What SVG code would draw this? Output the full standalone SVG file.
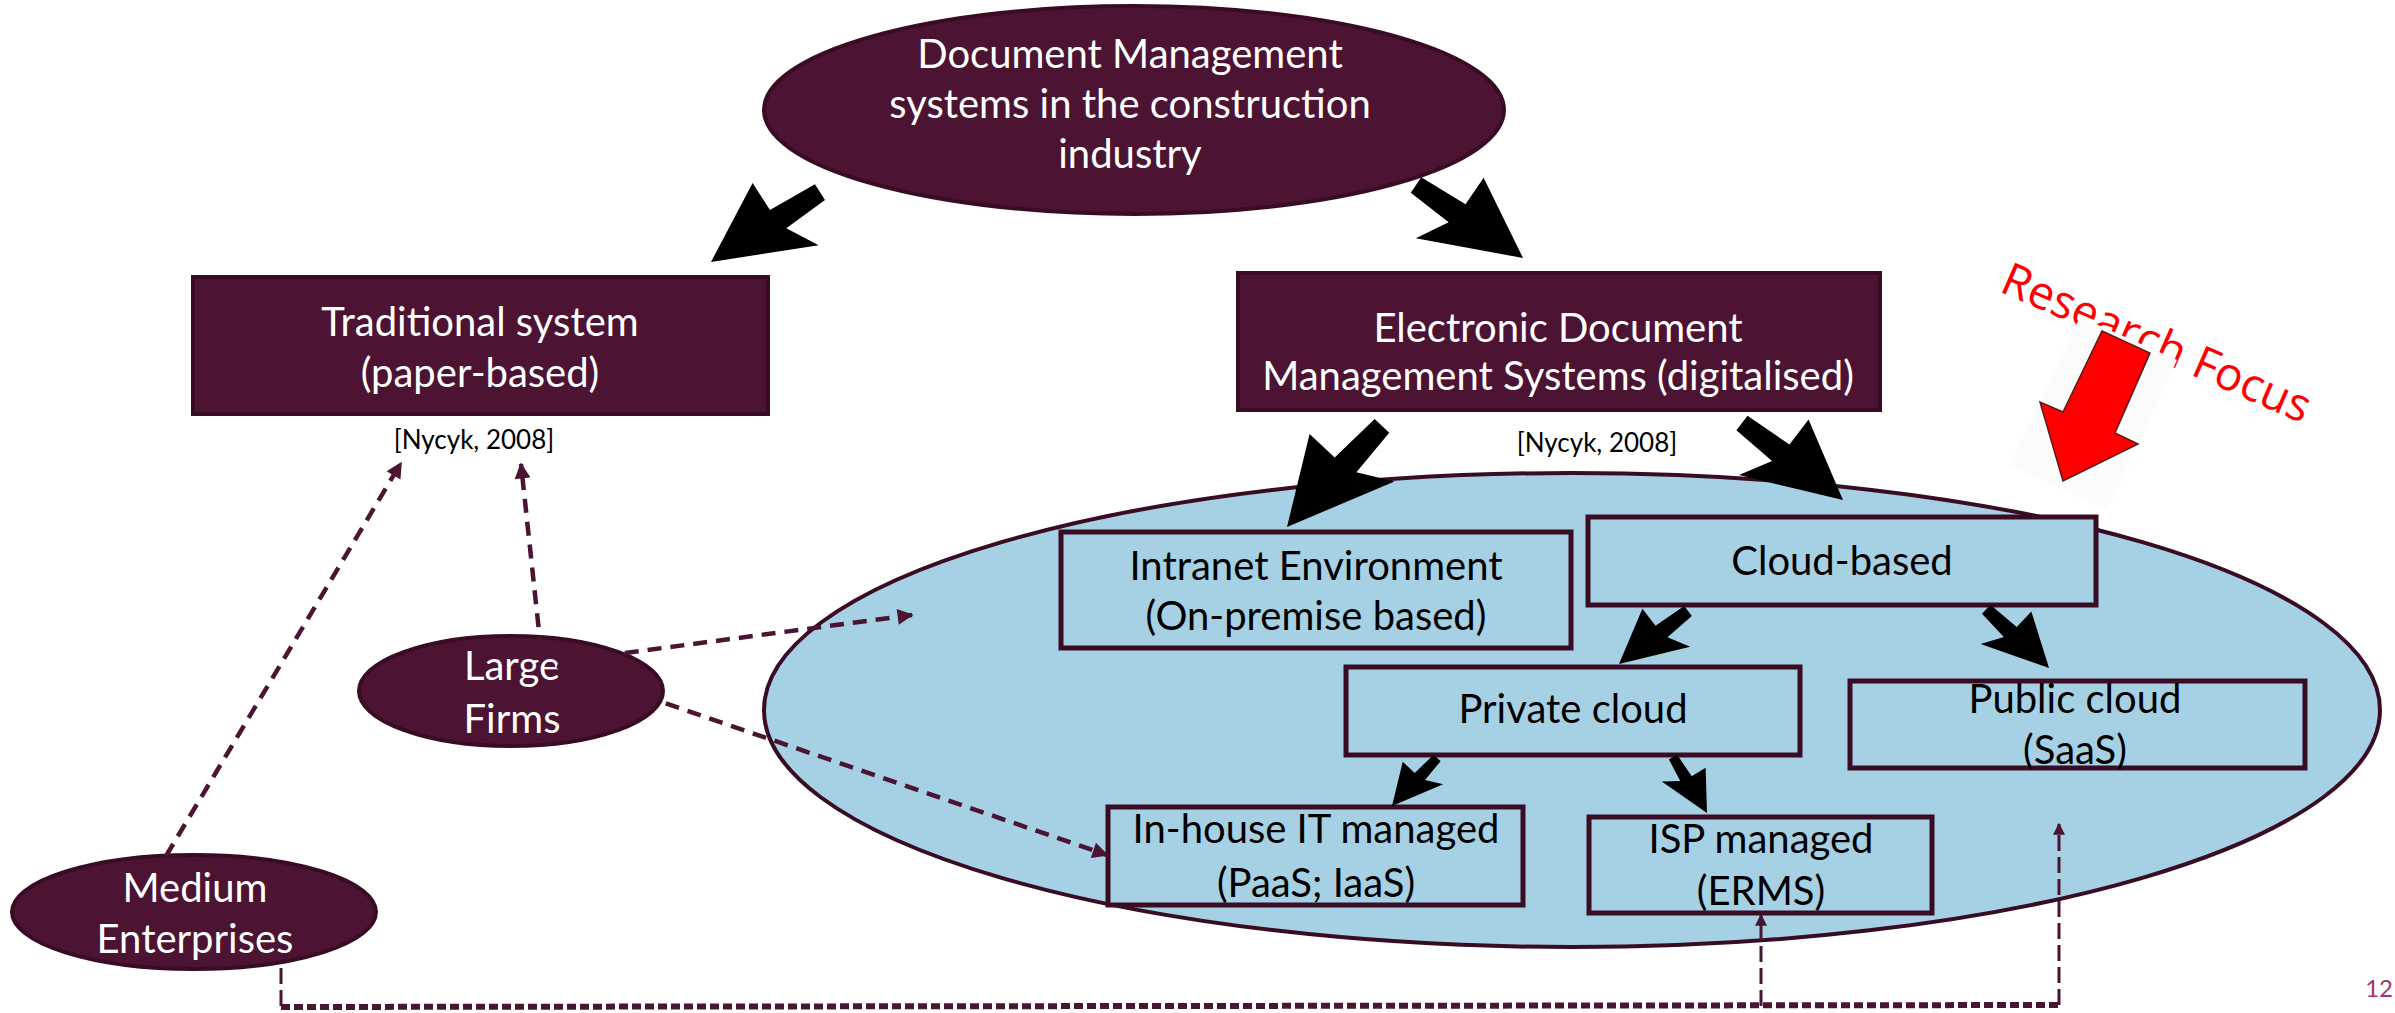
<svg xmlns="http://www.w3.org/2000/svg" width="2395" height="1013" viewBox="0 0 2395 1013">
<style>
  .t { font-family: Lato, "Liberation Sans", sans-serif; text-anchor: middle; }
  .w { fill: #ffffff; font-size: 40px; }
  .k { fill: #000000; font-size: 40px; }
  .ref { fill: #000000; font-size: 26px; }
  .dark { fill: #4c1432; stroke: #3a0c24; stroke-width: 4; }
  .blue { fill: #a6d0e3; stroke: #3a0c24; stroke-width: 5; }
  .big { fill: #a6d0e3; stroke: #3a0c24; stroke-width: 4; }
  .blk { fill: #000000; stroke: none; }
  .dash { fill: none; stroke: #4a1432; stroke-width: 4.5; stroke-dasharray: 14 9; }
  .dot { fill: none; stroke: #4a1432; stroke-width: 6; stroke-dasharray: 9 4; }
  .thin { fill: none; stroke: #4a1432; stroke-width: 3; stroke-dasharray: 16 6; }
</style>
<defs>
  <marker id="ah" viewBox="0 0 10 10" refX="9" refY="5" markerWidth="18" markerHeight="16" markerUnits="userSpaceOnUse" orient="auto">
    <path d="M0,0 L10,5 L0,10 z" fill="#4a1432"/>
  </marker>
  <marker id="ahs" viewBox="0 0 10 10" refX="9" refY="5" markerWidth="15" markerHeight="12" markerUnits="userSpaceOnUse" orient="auto">
    <path d="M0,0 L10,5 L0,10 z" fill="#4a1432"/>
  </marker>
  <path id="arrA" d="M0,0 L-0.6,0.34 L-0.6,0.092 L-1,0.072 L-1,-0.072 L-0.63,-0.095 L-0.77,-0.34 Z"/>
  <path id="arrB" d="M0,0 L-0.6,-0.34 L-0.6,-0.092 L-1,-0.072 L-1,0.072 L-0.63,0.095 L-0.77,0.34 Z"/>
</defs>
<rect width="2395" height="1013" fill="#ffffff"/>

<g id="node-cloudscope">
  <ellipse class="big" cx="1572" cy="710" rx="808" ry="237"/>
</g>

<g id="node-root">
  <ellipse class="dark" cx="1134" cy="110" rx="370" ry="104"/>
  <text class="t w" x="1130" y="68">Document Management</text>
  <text class="t w" x="1130" y="118">systems in the construction</text>
  <text class="t w" x="1130" y="168">industry</text>
</g>

<g id="node-traditional">
  <rect class="dark" x="193" y="277" width="575" height="137" stroke-width="3"/>
  <text class="t w" x="480" y="336">Traditional system</text>
  <text class="t w" x="480" y="387">(paper-based)</text>
  <text class="t ref" x="474" y="449">[Nycyk, 2008]</text>
</g>

<g id="node-edms">
  <rect class="dark" x="1238" y="273" width="642" height="137" stroke-width="3"/>
  <text class="t w" x="1558" y="342">Electronic Document</text>
  <text class="t w" x="1558" y="390">Management Systems (digitalised)</text>
  <text class="t ref" x="1597" y="452">[Nycyk, 2008]</text>
</g>

<g id="node-intranet">
  <rect class="blue" x="1061" y="532" width="510" height="116"/>
  <text class="t k" x="1316" y="580">Intranet Environment</text>
  <text class="t k" x="1316" y="630">(On-premise based)</text>
</g>

<g id="node-cloud">
  <rect class="blue" x="1588" y="517" width="508" height="88"/>
  <text class="t k" x="1842" y="575">Cloud-based</text>
</g>

<g id="node-private">
  <rect class="blue" x="1346" y="667" width="454" height="88"/>
  <text class="t k" x="1573" y="723">Private cloud</text>
</g>

<g id="node-public">
  <rect class="blue" x="1850" y="681" width="455" height="87"/>
  <text class="t k" x="2075" y="713">Public cloud</text>
  <text class="t k" x="2075" y="764">(SaaS)</text>
</g>

<g id="node-inhouse">
  <rect class="blue" x="1108" y="807" width="415" height="98"/>
  <text class="t k" x="1316" y="843">In-house IT managed</text>
  <text class="t k" x="1316" y="897">(PaaS; IaaS)</text>
</g>

<g id="node-isp">
  <rect class="blue" x="1589" y="817" width="343" height="96"/>
  <text class="t k" x="1761" y="853">ISP managed</text>
  <text class="t k" x="1761" y="905">(ERMS)</text>
</g>

<g id="node-large">
  <ellipse class="dark" cx="511" cy="691" rx="152" ry="55"/>
  <text class="t w" x="512" y="680">Large</text>
  <text class="t w" x="512" y="733">Firms</text>
</g>

<g id="node-medium">
  <ellipse class="dark" cx="194" cy="912" rx="182" ry="57"/>
  <text class="t w" x="195" y="902">Medium</text>
  <text class="t w" x="195" y="953">Enterprises</text>
</g>

<g id="connectors">
  <use href="#arrA" class="blk" transform="translate(711,262) rotate(147.3) scale(129.5)"/>
  <use href="#arrB" class="blk" transform="translate(1523,258) rotate(34.3) scale(129.5)"/>
  <use href="#arrA" class="blk" transform="translate(1287,527) rotate(133.2) scale(138.7)"/>
  <use href="#arrB" class="blk" transform="translate(1843,500) rotate(37.3) scale(127)"/>
  <use href="#arrA" class="blk" transform="translate(1619,664) rotate(142.5) scale(87)"/>
  <use href="#arrB" class="blk" transform="translate(2049,668) rotate(43.1) scale(86)"/>
  <use href="#arrA" class="blk" transform="translate(1392,806) rotate(133.2) scale(66)"/>
  <use href="#arrB" class="blk" transform="translate(1707,813) rotate(58.7) scale(65.5)"/>

  <path class="dash" d="M541,650 L521,464" marker-end="url(#ah)"/>
  <path class="dash" d="M166,856 L401,463" marker-end="url(#ah)"/>
  <path class="dash" d="M602,656 L912,615" marker-end="url(#ah)"/>
  <path class="dash" d="M557,666 L1107,855" marker-end="url(#ah)"/>

  <path class="thin" d="M281,968 L281,1007"/>
  <path class="dot" d="M281,1007 L2059,1005"/>
  <path class="thin" d="M1761,1006 L1761,915" marker-end="url(#ahs)"/>
  <path class="thin" d="M2059,1005 L2059,824" marker-end="url(#ahs)"/>
</g>

<g id="research-focus">
  <text x="0" y="0" transform="translate(1998,291) rotate(23.5)" font-family="'Open Sans', 'Liberation Sans', sans-serif" font-size="46" fill="#ff0000">Research Focus</text>
  <polygon points="2080,317 2177,360 2107,510 2010,465" fill="#fbfbfb"/>
  <polygon points="2102,331 2150,353 2115,433 2138,444 2063,481 2040,402 2063,412" fill="#ff0000" stroke="#5a1a1a" stroke-width="1.5" stroke-linejoin="miter"/>
</g>

<text x="2393" y="997" text-anchor="end" font-family="Lato, 'Liberation Sans', sans-serif" font-size="24" fill="#a2336f">12</text>
</svg>
